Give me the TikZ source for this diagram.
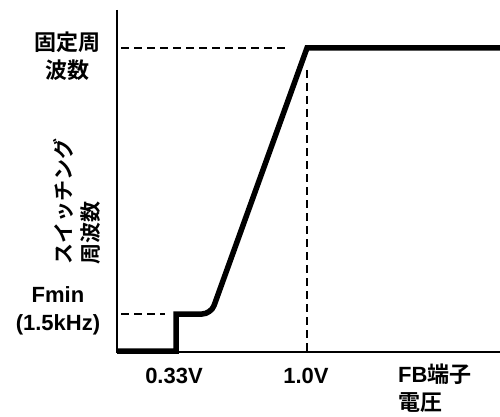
\documentclass[tikz,border=0pt]{standalone}
\usepackage{fontspec}
\setmainfont{Liberation Sans}[BoldFont={Liberation Sans Bold}]
\newfontfamily\cjk{Noto Sans CJK JP}[BoldFont={Noto Sans CJK JP Bold}]
\begin{document}
\begin{tikzpicture}[x=1pt,y=-1pt,
  lbl/.style={inner sep=0pt,font=\fontsize{22}{28}\selectfont\bfseries},
  axis/.style={line width=2.2pt},
  guide/.style={line width=2.3pt,dash pattern=on 8pt off 5pt},
  curve/.style={line width=5.5pt,line join=miter}]
\useasboundingbox (0,0) rectangle (500,417);
% axes
\coordinate (otop) at (117,10);
\coordinate (o) at (117,352);
\coordinate (xend) at (500,352);
\draw[axis] (otop) -- (o) -- (xend);
% guides
\coordinate (hf1) at (121,48);
\coordinate (hf2) at (288,48);
\coordinate (fm1) at (121,314);
\coordinate (fm2) at (165,314);
\coordinate (v1) at (307,70);
\coordinate (v2) at (307,352);
\draw[guide] (hf1) -- (hf2);
\draw[guide] (fm1) -- (fm2);
\draw[guide] (v1) -- (v2);
% characteristic
\coordinate (c0) at (117,351);
\coordinate (c1) at (176,351);
\coordinate (c2) at (176,314);
\coordinate (c3) at (211,314);
\coordinate (c4) at (307,48);
\coordinate (c5) at (500,48);
\draw[curve] (c0) -- (c1) -- (c2) [rounded corners=9pt] -- (c3) [sharp corners] -- (c4) -- (c5);
% labels
\node[lbl,align=center] (fixed) at (67,56) {\cjk 固定周\\\cjk 波数};
\node[lbl,align=center] (fmin) at (58,311) {Fmin\\(1.5kHz)};
\node[lbl,align=left,rotate=90,anchor=west,font=\fontsize{21}{27}\selectfont\bfseries] (ylab) at (77,265) {\cjk スイッチング\\\cjk 周波数};
\node[lbl] (t1) at (174,376) {0.33V};
\node[lbl] (t2) at (306,376) {1.0V};
\node[lbl,align=left,anchor=north west] (xlab) at (398,364) {FB\cjk 端子\\\cjk 電圧};
\end{tikzpicture}
\end{document}
